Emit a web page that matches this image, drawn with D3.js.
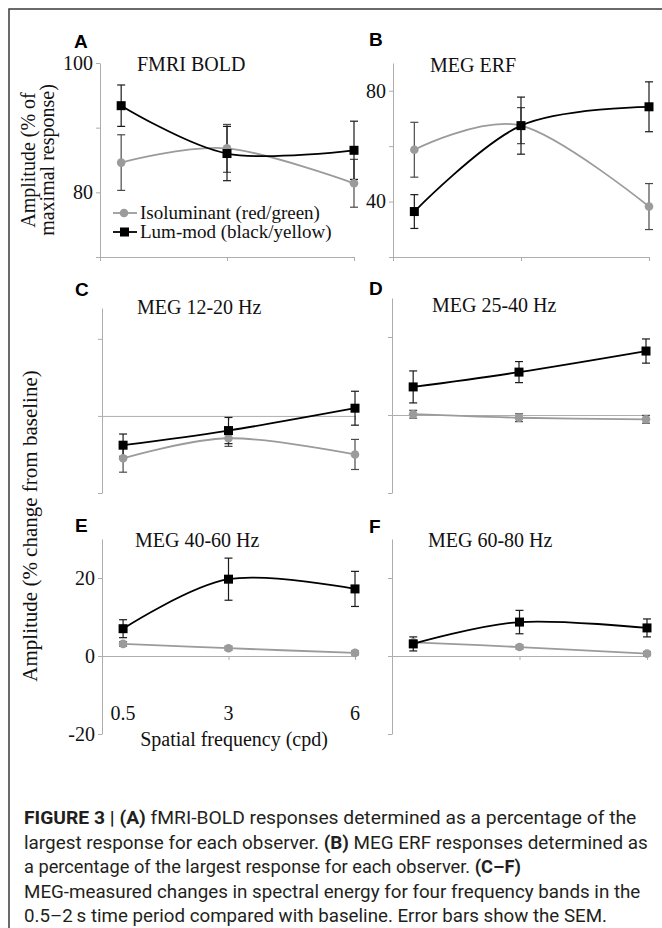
<!DOCTYPE html>
<html>
<head>
<meta charset="utf-8">
<script src="https://cdn.jsdelivr.net/npm/d3@7"></script>
<style>
  body { margin: 0; background: #fff; }
  svg { display: block; }
</style>
</head>
<body>
<svg width="662" height="928"></svg>
<script>

// spatial frequency (cpd)
var freqs = [0.5, 3, 6];
var freqLabels = ["0.5", "3", "6"];

// A - fMRI BOLD (% of maximal response)
var isoA = [84.6, 86.8, 81.4];
var isoAErr = [4.3, 3.7, 3.7];
var lumA = [93.4, 86.0, 86.5];
var lumAErr = [3.2, 4.2, 4.5];

// B - MEG ERF
var isoB = [58.7, 67.4, 38.2];
var isoBErr = [9.9, 6.5, 8.3];
var lumB = [36.4, 67.4, 74.2];
var lumBErr = [6.1, 10.3, 9.0];

// C - MEG 12-20 Hz (% change from baseline)
var isoC = [-11.0, -5.8, -10.0];
var isoCErr = [3.6, 2.1, 3.9];
var lumC = [-7.6, -3.8, 2.0];
var lumCErr = [2.9, 3.4, 4.4];

// D - MEG 25-40 Hz
var isoD = [0.2, -0.7, -1.1];
var isoDErr = [1.0, 1.0, 1.0];
var lumD = [7.2, 11.0, 16.4];
var lumDErr = [4.1, 2.7, 3.1];

// E - MEG 40-60 Hz
var isoE = [3.1, 2.0, 0.8];
var isoEErr = [0.6, 0.5, 0.5];
var lumE = [7.0, 19.7, 17.2];
var lumEErr = [2.3, 5.4, 4.5];

// F - MEG 60-80 Hz
var isoF = [3.5, 2.3, 0.6];
var isoFErr = [0.5, 0.5, 0.5];
var lumF = [3.1, 8.7, 7.2];
var lumFErr = [1.8, 3.0, 2.3];

var legendLabels = ["Isoluminant (red/green)", "Lum-mod (black/yellow)"];

var serif = "'Liberation Serif', 'Times New Roman', serif";
var sans = "'Liberation Sans', Arial, sans-serif";
var axisColor = "#adadad";
var grey = "#9b9b9b";

var svg = d3.select("svg");

// frame (cropped on right/bottom)
svg.append("rect")
    .attr("x", 9).attr("y", 9)
    .attr("width", 700).attr("height", 960)
    .attr("fill", "none")
    .attr("stroke", "#3a3a3a")
    .attr("stroke-width", 1.5);

var panels = [
  {letter: "A", title: "FMRI BOLD", iso: isoA, isoErr: isoAErr, lum: lumA, lumErr: lumAErr,
   xr: [100, 354], yd: [70, 100], yr: [257, 63], yTicks: [70, 80, 90, 100], yLab: [80, 100],
   xAxisAt: 70, letterPos: [74, 48], titlePos: [137, 71]},
  {letter: "B", title: "MEG ERF", iso: isoB, isoErr: isoBErr, lum: lumB, lumErr: lumBErr,
   xr: [393, 649], yd: [20, 90], yr: [257, 63], yTicks: [20, 40, 60, 80], yLab: [40, 80],
   xAxisAt: 20, letterPos: [369, 46], titlePos: [430, 72]},
  {letter: "C", title: "MEG 12-20 Hz", iso: isoC, isoErr: isoCErr, lum: lumC, lumErr: lumCErr,
   xr: [102, 355], yd: [-20, 28], yr: [493, 308], yTicks: [-20, 0, 20], yLab: [],
   xAxisAt: 0, letterPos: [75, 296], titlePos: [137, 314]},
  {letter: "D", title: "MEG 25-40 Hz", iso: isoD, isoErr: isoDErr, lum: lumD, lumErr: lumDErr,
   xr: [392, 646], yd: [-20, 30], yr: [493, 298], yTicks: [-20, 0, 20], yLab: [],
   xAxisAt: 0, letterPos: [369, 295], titlePos: [432, 312]},
  {letter: "E", title: "MEG 40-60 Hz", iso: isoE, isoErr: isoEErr, lum: lumE, lumErr: lumEErr,
   xr: [102, 355], yd: [-20, 30], yr: [734, 539], yTicks: [-20, 0, 20], yLab: [-20, 0, 20],
   xAxisAt: 0, letterPos: [75, 532], titlePos: [135, 547], xLabels: true},
  {letter: "F", title: "MEG 60-80 Hz", iso: isoF, isoErr: isoFErr, lum: lumF, lumErr: lumFErr,
   xr: [392, 647], yd: [-20, 30], yr: [734, 539], yTicks: [-20, 0, 20], yLab: [],
   xAxisAt: 0, letterPos: [369, 533], titlePos: [428, 547]}
];

panels.forEach(function(p) {
  var x = d3.scaleLinear().domain([0, 6]).range(p.xr);
  var y = d3.scaleLinear().domain(p.yd).range(p.yr);
  var g = svg.append("g").attr("class", "panel");

  // y axis
  var yAxis = g.append("g")
      .attr("transform", "translate(" + p.xr[0] + ",0)")
      .call(d3.axisLeft(y)
        .tickValues(p.yTicks)
        .tickSize(4)
        .tickSizeOuter(0)
        .tickPadding(3)
        .tickFormat(function(d) { return p.yLab.indexOf(d) >= 0 ? d : ""; }));
  yAxis.selectAll("path, line").attr("stroke", axisColor);
  yAxis.selectAll("text")
      .attr("fill", "#111")
      .style("font-family", serif)
      .style("font-size", "20px");

  // x axis (sits on y = xAxisAt)
  var xAxis = g.append("g")
      .attr("transform", "translate(0," + y(p.xAxisAt) + ")")
      .call(d3.axisBottom(x)
        .tickValues([0, 3, 6])
        .tickSize(4)
        .tickSizeOuter(0)
        .tickFormat(""));
  xAxis.selectAll("path, line").attr("stroke", axisColor);

  if (p.xLabels) {
    g.selectAll(".xlab")
      .data(freqs)
      .enter().append("text")
        .attr("x", function(d) { return x(d); })
        .attr("y", p.yr[0] - 14)
        .attr("text-anchor", "middle")
        .style("font-family", serif)
        .style("font-size", "20px")
        .attr("fill", "#111")
        .text(function(d, i) { return freqLabels[i]; });
  }

  var line = d3.line()
      .x(function(d, i) { return x(freqs[i]); })
      .y(function(d) { return y(d); })
      .curve(d3.curveCardinal.tension(0));

  // error bars
  function errBars(vals, errs, col) {
    var eb = g.append("g").attr("stroke", col).attr("stroke-width", 1.2);
    vals.forEach(function(v, i) {
      var cx = x(freqs[i]);
      eb.append("line").attr("x1", cx).attr("x2", cx)
        .attr("y1", y(v - errs[i])).attr("y2", y(v + errs[i]));
      [v - errs[i], v + errs[i]].forEach(function(e) {
        eb.append("line").attr("x1", cx - 4).attr("x2", cx + 4)
          .attr("y1", y(e)).attr("y2", y(e));
      });
    });
  }
  errBars(p.iso, p.isoErr, "#4a4a4a");
  errBars(p.lum, p.lumErr, "#1a1a1a");

  g.append("path")
      .datum(p.iso)
      .attr("fill", "none")
      .attr("stroke", grey)
      .attr("stroke-width", 1.8)
      .attr("d", line);

  g.selectAll(".iso")
    .data(p.iso)
    .enter().append("circle")
      .attr("cx", function(d, i) { return x(freqs[i]); })
      .attr("cy", function(d) { return y(d); })
      .attr("r", 4.3)
      .attr("fill", grey);

  g.append("path")
      .datum(p.lum)
      .attr("fill", "none")
      .attr("stroke", "#000")
      .attr("stroke-width", 1.8)
      .attr("d", line);

  g.selectAll(".lum")
    .data(p.lum)
    .enter().append("rect")
      .attr("x", function(d, i) { return x(freqs[i]) - 4.5; })
      .attr("y", function(d) { return y(d) - 4.5; })
      .attr("width", 9).attr("height", 9)
      .attr("fill", "#000");

  // title + panel letter
  g.append("text")
      .attr("x", p.titlePos[0]).attr("y", p.titlePos[1])
      .style("font-family", serif)
      .style("font-size", "20px")
      .attr("fill", "#111")
      .text(p.title);

  g.append("text")
      .attr("x", p.letterPos[0]).attr("y", p.letterPos[1])
      .style("font-family", sans)
      .style("font-size", "19px")
      .style("font-weight", "bold")
      .text(p.letter);
});

// legend (inside panel A)
var leg = svg.append("g").attr("class", "legend");
[{c: grey, y: 213, sq: false}, {c: "#000", y: 232, sq: true}].forEach(function(d, i) {
  leg.append("line").attr("x1", 113).attr("x2", 137)
    .attr("y1", d.y).attr("y2", d.y)
    .attr("stroke", d.c).attr("stroke-width", 1.8);
  if (d.sq) {
    leg.append("rect").attr("x", 120).attr("y", d.y - 4.5)
      .attr("width", 9).attr("height", 9).attr("fill", d.c);
  } else {
    leg.append("circle").attr("cx", 124).attr("cy", d.y).attr("r", 4.3).attr("fill", d.c);
  }
  leg.append("text")
    .attr("x", 140).attr("y", d.y + 6)
    .style("font-family", serif)
    .style("font-size", "19px")
    .attr("fill", "#111")
    .text(legendLabels[i]);
});

// y axis titles
var yt1 = svg.append("text")
    .attr("transform", "translate(35,160) rotate(-90)")
    .attr("text-anchor", "middle")
    .style("font-family", serif)
    .style("font-size", "20px")
    .attr("fill", "#111");
yt1.append("tspan").attr("x", 0).attr("y", 0).text("Amplitude (% of");
yt1.append("tspan").attr("x", 0).attr("y", 19).text("maximal response)");

svg.append("text")
    .attr("transform", "translate(37,526) rotate(-90)")
    .attr("text-anchor", "middle")
    .style("font-family", serif)
    .style("font-size", "21px")
    .attr("fill", "#111")
    .text("Amplitude (% change from baseline)");

svg.append("text")
    .attr("x", 234).attr("y", 746)
    .attr("text-anchor", "middle")
    .style("font-family", serif)
    .style("font-size", "20px")
    .attr("fill", "#111")
    .text("Spatial frequency (cpd)");

// caption
var captionLines = [
  [["FIGURE 3 | (A)", true], [" fMRI-BOLD responses determined as a percentage of the", false]],
  [["largest response for each observer. ", false], ["(B)", true], [" MEG ERF responses determined as", false]],
  [["a percentage of the largest response for each observer. ", false], ["(C\u2013F)", true]],
  [["MEG-measured changes in spectral energy for four frequency bands in the", false]],
  [["0.5\u20132\u2009s time period compared with baseline. Error bars show the SEM.", false]]
];
var captionWidths = [613, 624, 497, 617, 583];
var captionY = [824, 849, 873, 898, 922];

captionLines.forEach(function(parts, i) {
  var t = svg.append("text")
      .style("font-family", "Roboto, " + sans)
      .style("font-size", "18px")
      .attr("fill", "#231f20");
  parts.forEach(function(pt) {
    t.append("tspan")
      .style("font-weight", pt[1] ? "bold" : "normal")
      .text(pt[0]);
  });
  var w = t.node().getComputedTextLength();
  t.attr("transform", "translate(24," + captionY[i] + ") scale(" + (captionWidths[i] / w) + ",1)");
});

</script>
</body>
</html>
